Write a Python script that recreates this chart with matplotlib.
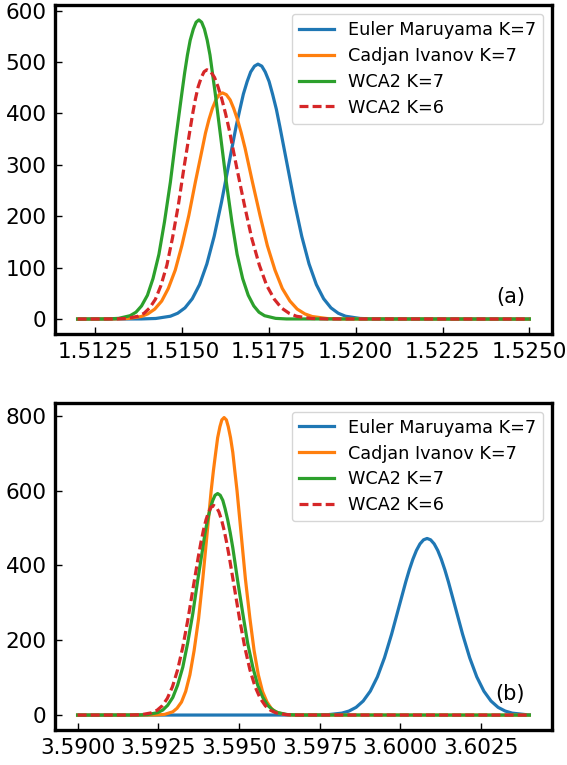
import matplotlib
matplotlib.use("Agg")
import matplotlib.pyplot as plt
from matplotlib.ticker import FormatStrFormatter

# ---------------- panel (a) ----------------
a_em_x = [1.5120, 1.51383, 1.51425, 1.51467, 1.51488, 1.51509, 1.51530, 1.51551, 1.51572, 1.51593,
          1.51614, 1.51635, 1.51656, 1.51667, 1.51677, 1.51688, 1.51698, 1.51709, 1.51719, 1.51730,
          1.51740, 1.51751, 1.51761, 1.51772, 1.51782, 1.51803, 1.51824, 1.51845, 1.51866, 1.51887,
          1.51908, 1.51929, 1.51950, 1.51971, 1.52013, 1.52055, 1.5250]
a_em_y = [0.0, 0.2, 1.1, 5.5, 11.3, 21.8, 39.5, 67.1, 107.3, 161.0,
          227.1, 300.8, 374.4, 408.0, 437.7, 462.3, 480.7, 492.1, 496.0, 492.1,
          480.7, 462.3, 437.7, 408.0, 374.4, 300.8, 227.1, 161.0, 107.3, 67.1,
          39.5, 21.8, 11.3, 5.5, 1.1, 0.2, 0.0]

a_ci_x = [1.5120, 1.51305, 1.51344, 1.51383, 1.51402, 1.51422, 1.51442, 1.51461, 1.51481, 1.51500,
          1.51520, 1.51539, 1.51559, 1.51568, 1.51578, 1.51588, 1.51598, 1.51607, 1.51617, 1.51628,
          1.51639, 1.51649, 1.51660, 1.51671, 1.51682, 1.51703, 1.51725, 1.51746, 1.51768, 1.51789,
          1.51811, 1.51832, 1.51854, 1.51875, 1.51918, 1.51961, 1.5250]
a_ci_y = [0.0, 0.2, 1.0, 4.9, 10.0, 19.3, 35.0, 59.5, 95.2, 142.9,
          201.4, 266.9, 332.1, 361.9, 388.3, 410.1, 426.4, 436.6, 440.0, 436.6,
          426.4, 410.1, 388.3, 361.9, 332.1, 266.9, 201.4, 142.9, 95.2, 59.5,
          35.0, 19.3, 10.0, 4.9, 1.0, 0.2, 0.0]

a_w7_x = [1.5120, 1.51285, 1.51318, 1.51351, 1.51368, 1.51384, 1.51401, 1.51417, 1.51434, 1.51450,
          1.51467, 1.51483, 1.51500, 1.51508, 1.51516, 1.51524, 1.51533, 1.51541, 1.51549, 1.51557,
          1.51565, 1.51573, 1.51581, 1.51588, 1.51596, 1.51612, 1.51628, 1.51644, 1.51659, 1.51675,
          1.51691, 1.51707, 1.51722, 1.51738, 1.51770, 1.51801, 1.5250]
a_w7_y = [0.0, 0.2, 1.3, 6.5, 13.3, 25.5, 46.3, 78.7, 125.9, 189.0,
          266.4, 353.0, 439.3, 478.8, 513.6, 542.5, 564.1, 577.5, 582.0, 577.5,
          564.1, 542.5, 513.6, 478.8, 439.3, 353.0, 266.4, 189.0, 125.9, 78.7,
          46.3, 25.5, 13.3, 6.5, 1.3, 0.2, 0.0]

a_w6_x = [1.5120, 1.51308, 1.51341, 1.51374, 1.51391, 1.51407, 1.51424, 1.51440, 1.51457, 1.51473,
          1.51490, 1.51506, 1.51523, 1.51531, 1.51539, 1.51547, 1.51556, 1.51564, 1.51572, 1.51583,
          1.51594, 1.51604, 1.51615, 1.51626, 1.51637, 1.51658, 1.51680, 1.51701, 1.51723, 1.51744,
          1.51766, 1.51787, 1.51809, 1.51830, 1.51873, 1.51916, 1.5250]
a_w6_y = [0.0, 0.2, 1.1, 5.4, 11.1, 21.3, 38.6, 65.6, 104.9, 157.5,
          222.0, 294.2, 366.1, 399.0, 428.0, 452.1, 470.1, 481.2, 485.0, 481.2,
          470.1, 452.1, 428.0, 399.0, 366.1, 294.2, 222.0, 157.5, 104.9, 65.6,
          38.6, 21.3, 11.1, 5.4, 1.1, 0.2, 0.0]

a_xticks = [1.5125, 1.5150, 1.5175, 1.5200, 1.5225, 1.5250]
a_yticks = [0, 100, 200, 300, 400, 500, 600]

# ---------------- panel (b) ----------------
b_em_x = [3.5900, 3.59731, 3.59775, 3.59819, 3.59841, 3.59863, 3.59885, 3.59907, 3.59929, 3.59951,
          3.59973, 3.59995, 3.60017, 3.60028, 3.60039, 3.60050, 3.60061, 3.60072, 3.60083, 3.60094,
          3.60105, 3.60116, 3.60127, 3.60138, 3.60149, 3.60171, 3.60193, 3.60215, 3.60237, 3.60259,
          3.60281, 3.60303, 3.60325, 3.60347, 3.60391, 3.6040]
b_em_y = [0.0, 0.2, 1.0, 5.2, 10.8, 20.7, 37.6, 63.9, 102.1, 153.3,
          216.1, 286.3, 356.3, 388.3, 416.5, 440.0, 457.5, 468.3, 472.0, 468.3,
          457.5, 440.0, 416.5, 388.3, 356.3, 286.3, 216.1, 153.3, 102.1, 63.9,
          37.6, 20.7, 10.8, 5.2, 1.0, 0.7]

b_ci_x = [3.5900, 3.59242, 3.59269, 3.59295, 3.59308, 3.59322, 3.59335, 3.59348, 3.59361, 3.59375,
          3.59388, 3.59401, 3.59414, 3.59421, 3.59428, 3.59434, 3.59441, 3.59447, 3.59454, 3.59461,
          3.59467, 3.59474, 3.59481, 3.59487, 3.59494, 3.59507, 3.59520, 3.59534, 3.59547, 3.59560,
          3.59573, 3.59587, 3.59600, 3.59613, 3.59640, 3.59666, 3.6040]
b_ci_y = [0.0, 0.3, 1.7, 8.8, 18.1, 34.9, 63.3, 107.6, 172.0, 258.1,
          364.0, 482.2, 600.1, 654.0, 701.6, 741.0, 770.5, 788.8, 795.0, 788.8,
          770.5, 741.0, 701.6, 654.0, 600.1, 482.2, 364.0, 258.1, 172.0, 107.6,
          63.3, 34.9, 18.1, 8.8, 1.7, 0.3, 0.0]

b_w7_x = [3.5900, 3.59186, 3.59217, 3.59248, 3.59264, 3.59279, 3.59295, 3.59310, 3.59326, 3.59341,
          3.59357, 3.59372, 3.59388, 3.59395, 3.59403, 3.59411, 3.59419, 3.59426, 3.59434, 3.59442,
          3.59450, 3.59457, 3.59465, 3.59473, 3.59481, 3.59496, 3.59512, 3.59527, 3.59543, 3.59558,
          3.59574, 3.59589, 3.59605, 3.59620, 3.59651, 3.59682, 3.6040]
b_w7_y = [0.0, 0.2, 1.3, 6.6, 13.5, 26.0, 47.1, 80.1, 128.0, 192.2,
          271.0, 359.0, 446.8, 487.0, 522.4, 551.8, 573.8, 587.4, 592.0, 587.4,
          573.8, 551.8, 522.4, 487.0, 446.8, 359.0, 271.0, 192.2, 128.0, 80.1,
          47.1, 26.0, 13.5, 6.6, 1.3, 0.2, 0.0]

b_w6_x = [3.5900, 3.59166, 3.59198, 3.59230, 3.59246, 3.59262, 3.59278, 3.59294, 3.59310, 3.59326,
          3.59342, 3.59358, 3.59374, 3.59382, 3.59390, 3.59398, 3.59406, 3.59414, 3.59422, 3.59430,
          3.59438, 3.59446, 3.59454, 3.59462, 3.59470, 3.59486, 3.59502, 3.59518, 3.59534, 3.59550,
          3.59566, 3.59582, 3.59598, 3.59614, 3.59646, 3.59678, 3.6040]
b_w6_y = [0.0, 0.2, 1.2, 6.2, 12.8, 24.6, 44.6, 75.8, 121.1, 181.8,
          256.4, 339.6, 422.7, 460.7, 494.2, 522.0, 542.8, 555.6, 560.0, 555.6,
          542.8, 522.0, 494.2, 460.7, 422.7, 339.6, 256.4, 181.8, 121.1, 75.8,
          44.6, 24.6, 12.8, 6.2, 1.2, 0.2, 0.0]

b_xticks = [3.5900, 3.5925, 3.5950, 3.5975, 3.6000, 3.6025]
b_yticks = [0, 200, 400, 600, 800]

labels = ["Euler Maruyama K=7", "Cadjan Ivanov K=7", "WCA2 K=7", "WCA2 K=6"]


def draw_panel(ax, curves, xticks, yticks, tag):
    ax.plot(curves[0][0], curves[0][1], color="tab:blue", lw=2.3, label=labels[0])
    ax.plot(curves[1][0], curves[1][1], color="tab:orange", lw=2.3, label=labels[1])
    ax.plot(curves[2][0], curves[2][1], color="tab:green", lw=2.3, label=labels[2])
    ax.plot(curves[3][0], curves[3][1], color="tab:red", lw=2.3, ls=(0, (2.8, 1.3)), label=labels[3])
    ax.set_xticks(xticks)
    ax.set_yticks(yticks)
    ax.xaxis.set_major_formatter(FormatStrFormatter("%.4f"))
    ax.tick_params(direction="in", length=5, width=1, labelsize=15.5, pad=6)
    for sp in ax.spines.values():
        sp.set_linewidth(2.4)
    ax.legend(loc="upper right", fontsize=12.7, labelspacing=0.45)
    ax.text(0.946, 0.093, tag, transform=ax.transAxes, ha="right", va="baseline", fontsize=15)


fig = plt.figure(figsize=(5.67, 7.65), dpi=100)
ax1 = fig.add_axes([0.097, 0.5634, 0.8765, 0.4301])
ax2 = fig.add_axes([0.097, 0.0458, 0.8765, 0.4278])

draw_panel(ax1, [(a_em_x, a_em_y), (a_ci_x, a_ci_y), (a_w7_x, a_w7_y), (a_w6_x, a_w6_y)],
           a_xticks, a_yticks, "(a)")
draw_panel(ax2, [(b_em_x, b_em_y), (b_ci_x, b_ci_y), (b_w7_x, b_w7_y), (b_w6_x, b_w6_y)],
           b_xticks, b_yticks, "(b)")

fig.savefig("out.png", dpi=100)
